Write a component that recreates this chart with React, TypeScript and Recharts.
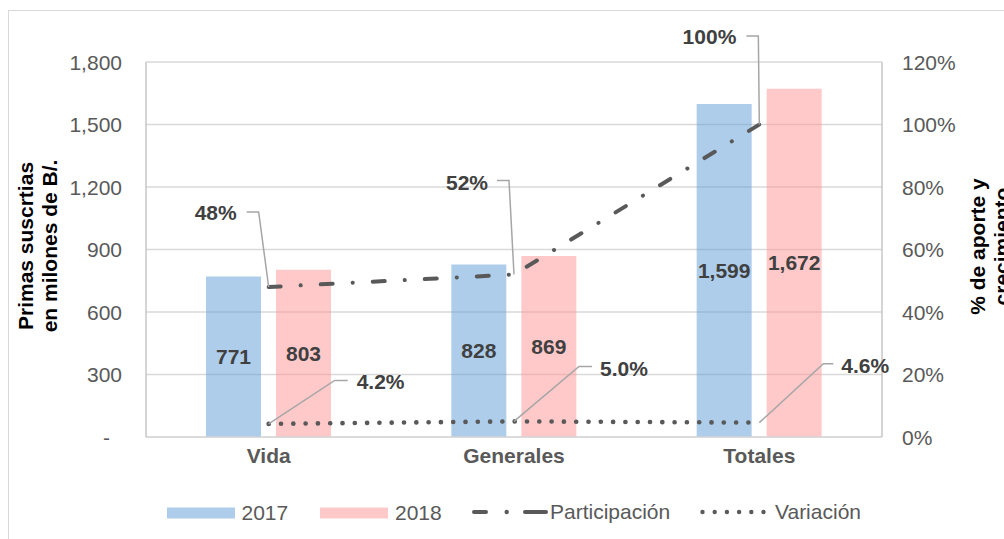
import React from 'react';
import { ComposedChart, Bar, Line, XAxis, YAxis, CartesianGrid, LabelList, Legend } from 'recharts';

const categories = ['Vida', 'Generales', 'Totales'];
const primas2017 = [771, 828, 1599];
const primas2018 = [803, 869, 1672];
const participacion = [0.48, 0.52, 1.0];
const variacion = [0.042, 0.05, 0.046];
const leftTicks = [0, 300, 600, 900, 1200, 1500, 1800];
const rightTicks = [0, 0.2, 0.4, 0.6, 0.8, 1.0, 1.2];
const seriesNames = ['2017', '2018', 'Participación', 'Variación'];

const FONT = '"Liberation Sans", Arial, Helvetica, sans-serif';
const BLUE = '#5B9BD5';
const PINK = '#FF9393';
const LINE = '#595959';
const TICK = '#595959';
const LABEL = '#404040';
const LEADER = '#a6a6a6';

// callout geometry (relative to the point): elbow, end of leader, text anchor
const partCallouts = [
  { ex: -10, ey: -75, hx: -22, tx: -32, ty: -75, anchor: 'end' },
  { ex: -5, ey: -94, hx: -17, tx: -26, ty: -92, anchor: 'end' },
  { ex: -1, ey: -88.5, hx: -13, tx: -23, ty: -88.5, anchor: 'end' },
];
const variCallouts = [
  { ex: 66, ey: -43.5, hx: 79, tx: 88, ty: -42.5, anchor: 'start' },
  { ex: 65, ey: -55, hx: 78, tx: 86, ty: -53, anchor: 'start' },
  { ex: 64, ey: -59, hx: 74, tx: 82, ty: -57, anchor: 'start' },
];

const fmtNum = (v: number) => v.toLocaleString('en-US');
const fmtPct0 = (v: number) => `${Math.round(v * 100)}%`;
const fmtPct1 = (v: number) => `${(v * 100).toFixed(1)}%`;

const makeCallout = (cfg: any[], fmt: (v: number) => string) => (props: any) => {
  const { x, y, value, index } = props;
  const c = cfg[index];
  if (!c || x == null || y == null) return null;
  const ex = x + c.ex;
  const ey = y + c.ey;
  const hx = x + c.hx;
  return (
    <g>
      <polyline points={`${x},${y} ${ex},${ey} ${hx},${ey}`} fill="none" stroke={LEADER} strokeWidth={1.5} />
      <text
        x={x + c.tx}
        y={y + c.ty}
        textAnchor={c.anchor}
        dominantBaseline="central"
        fontFamily={FONT}
        fontSize={21}
        fontWeight="bold"
        fill={LABEL}
      >
        {fmt(value)}
      </text>
    </g>
  );
};

const LeftTick = (props: any) => {
  const { x, y, payload } = props;
  const v = payload.value;
  return (
    <text
      x={v === 0 ? x - 12 : x}
      y={y}
      textAnchor="end"
      dominantBaseline="central"
      fontFamily={FONT}
      fontSize={21}
      fill={TICK}
    >
      {v === 0 ? '-' : fmtNum(v)}
    </text>
  );
};

const RightTick = (props: any) => {
  const { x, y, payload } = props;
  return (
    <text x={x} y={y} textAnchor="start" dominantBaseline="central" fontFamily={FONT} fontSize={21} fill={TICK}>
      {fmtPct0(payload.value)}
    </text>
  );
};

const BottomTick = (props: any) => {
  const { x, y, payload } = props;
  return (
    <text x={x} y={y + 8} textAnchor="middle" dominantBaseline="central" fontFamily={FONT} fontSize={21} fontWeight="bold" fill={TICK}>
      {payload.value}
    </text>
  );
};

const LeftTitle = (props: any) => {
  const vb = props.viewBox;
  const cy = vb.y + vb.height / 2 - 3.5;
  const x1 = vb.x - 40.3;
  const x2 = vb.x - 16.3;
  return (
    <g fontFamily={FONT} fontSize={21} fontWeight="bold" fill="#000">
      <text x={x1} y={cy} transform={`rotate(-90, ${x1}, ${cy})`} textAnchor="middle" dominantBaseline="central">Primas suscrtias</text>
      <text x={x2} y={cy} transform={`rotate(-90, ${x2}, ${cy})`} textAnchor="middle" dominantBaseline="central">en milones de B/.</text>
    </g>
  );
};

const RightTitle = (props: any) => {
  const vb = props.viewBox;
  const cy = vb.y + vb.height / 2 - 3;
  const x1 = vb.x + 95.7;
  const x2 = vb.x + 119.7;
  return (
    <g fontFamily={FONT} fontSize={21} fontWeight="bold" fill="#000">
      <text x={x1} y={cy} transform={`rotate(-90, ${x1}, ${cy})`} textAnchor="middle" dominantBaseline="central">% de aporte y</text>
      <text x={x2} y={cy} transform={`rotate(-90, ${x2}, ${cy})`} textAnchor="middle" dominantBaseline="central">crecimiento</text>
    </g>
  );
};

const LegendContent = () => {
  const cy = 15;
  const t = { fontFamily: FONT, fontSize: 21, fill: TICK, dominantBaseline: 'central' as const };
  const dots = [0, 1, 2, 3, 4, 5];
  return (
    <svg width={1004} height={30} style={{ display: 'block' }}>
      <rect x={167} y={cy - 5.5} width={68} height={11} fill={BLUE} fillOpacity={0.5} />
      <text x={241.5} y={cy - 1} {...t}>{seriesNames[0]}</text>
      <rect x={320} y={cy - 5.5} width={68} height={11} fill={PINK} fillOpacity={0.5} />
      <text x={395} y={cy - 1} {...t}>{seriesNames[1]}</text>
      <line x1={474} y1={cy - 1} x2={486} y2={cy - 1} stroke={LINE} strokeWidth={4} strokeLinecap="round" />
      <circle cx={506.7} cy={cy - 1} r={2.2} fill={LINE} />
      <line x1={525} y1={cy - 1} x2={546} y2={cy - 1} stroke={LINE} strokeWidth={4} strokeLinecap="round" />
      <text x={550} y={cy - 2} {...t}>{seriesNames[2]}</text>
      {dots.map((d) => (
        <circle key={d} cx={702.5 + d * 12.2} cy={cy - 1} r={2.2} fill={LINE} />
      ))}
      <text x={775} y={cy - 2} {...t}>{seriesNames[3]}</text>
    </svg>
  );
};

export default function App() {
  const data = categories.map((c, i) => ({
    name: c,
    y2017: primas2017[i],
    y2018: primas2018[i],
    part: participacion[i],
    vari: variacion[i],
  }));
  return (
    <div style={{ position: 'absolute', left: 0, top: 0, width: 1004, height: 539, background: '#fff', overflow: 'hidden', fontFamily: FONT }}>
      <div style={{ position: 'absolute', left: 8, top: 10, width: 1000, height: 540, border: '1px solid #d9d9d9', boxSizing: 'border-box' }} />
      <div style={{ position: 'absolute', left: 0, top: 0 }}>
        <ComposedChart
          width={1004}
          height={539}
          data={data}
          margin={{ top: 62, right: 42, left: 66, bottom: 32 }}
          barGap={15}
        >
          <CartesianGrid vertical={false} stroke="#d9d9d9" strokeWidth={1.3} yAxisId="left" />
          <XAxis
            dataKey="name"
            height={40}
            tickLine={false}
            tickSize={0}
            tickMargin={10}
            axisLine={{ stroke: '#d9d9d9', strokeWidth: 1.3 }}
            tick={<BottomTick />}
            interval={0}
          />
          <YAxis
            yAxisId="left"
            orientation="left"
            width={80}
            domain={[0, 1800]}
            ticks={leftTicks}
            tickLine={false}
            tickSize={0}
            tickMargin={24}
            axisLine={{ stroke: '#bfbfbf', strokeWidth: 1.3 }}
            tick={<LeftTick />}
            label={{ content: <LeftTitle /> }}
          />
          <YAxis
            yAxisId="right"
            orientation="right"
            width={80}
            domain={[0, 1.2]}
            ticks={rightTicks}
            tickLine={false}
            tickSize={0}
            tickMargin={20}
            axisLine={{ stroke: '#bfbfbf', strokeWidth: 1.3 }}
            tick={<RightTick />}
            label={{ content: <RightTitle /> }}
          />
          <Legend content={<LegendContent />} wrapperStyle={{ left: 0, top: 498, width: 1004, height: 30 }} />
          <Bar yAxisId="left" dataKey="y2017" name={seriesNames[0]} barSize={55} fill={BLUE} fillOpacity={0.5} isAnimationActive={false}>
            <LabelList dataKey="y2017" position="center" formatter={(v: any) => fmtNum(v)} fontFamily={FONT} fontSize={21} fontWeight="bold" fill={LABEL} />
          </Bar>
          <Bar yAxisId="left" dataKey="y2018" name={seriesNames[1]} barSize={55} fill={PINK} fillOpacity={0.5} isAnimationActive={false}>
            <LabelList dataKey="y2018" position="center" formatter={(v: any) => fmtNum(v)} fontFamily={FONT} fontSize={21} fontWeight="bold" fill={LABEL} />
          </Bar>
          <Line
            yAxisId="right"
            dataKey="part"
            name={seriesNames[2]}
            stroke={LINE}
            strokeWidth={4}
            strokeLinecap="round"
            strokeDasharray="12 20 0.1 20"
            dot={false}
            activeDot={false}
            isAnimationActive={false}
          >
            <LabelList dataKey="part" content={makeCallout(partCallouts, fmtPct0)} />
          </Line>
          <Line
            yAxisId="right"
            dataKey="vari"
            name={seriesNames[3]}
            stroke={LINE}
            strokeWidth={4.6}
            strokeLinecap="round"
            strokeDasharray="0.1 12.2"
            dot={false}
            activeDot={false}
            isAnimationActive={false}
          >
            <LabelList dataKey="vari" content={makeCallout(variCallouts, fmtPct1)} />
          </Line>
        </ComposedChart>
      </div>
    </div>
  );
}
